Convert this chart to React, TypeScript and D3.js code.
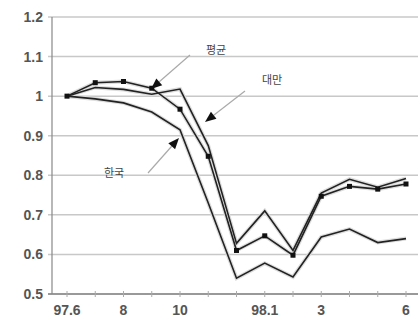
import React from "react";
import * as d3 from "d3";

const months = ["97.6", "7", "8", "9", "10", "11", "12", "98.1", "2", "3", "4", "5", "6"];
const tickLabels = ["97.6", "8", "10", "98.1", "3", "6"];
const yTicks = [0.5, 0.6, 0.7, 0.8, 0.9, 1, 1.1, 1.2];
const taiwan = [1.0, 1.022, 1.017, 1.005, 1.018, 0.875, 0.628, 0.71, 0.61, 0.755, 0.79, 0.77, 0.792];
const average = [1.0, 1.034, 1.037, 1.02, 0.967, 0.848, 0.61, 0.647, 0.598, 0.747, 0.772, 0.765, 0.778];
const korea = [1.0, 0.993, 0.983, 0.96, 0.915, 0.73, 0.54, 0.578, 0.543, 0.644, 0.664, 0.63, 0.64];

const W = 420;
const H = 320;

export default function App() {
  const x = d3.scaleLinear().domain([0, months.length - 1]).range([67, 406]);
  const y = d3.scaleLinear().domain([0.5, 1.2]).range([294, 17]);
  const line = d3
    .line<number>()
    .x((_, i) => x(i))
    .y((d) => y(d));

  const arrow = (x1: number, y1: number, x2: number, y2: number) => {
    const ang = Math.atan2(y2 - y1, x2 - x1);
    const len = 11;
    const w = 4.5;
    const bx = x2 - len * Math.cos(ang);
    const by = y2 - len * Math.sin(ang);
    const px = -Math.sin(ang) * w;
    const py = Math.cos(ang) * w;
    return (
      <g>
        <line x1={x1} y1={y1} x2={bx} y2={by} stroke="#aaa" strokeWidth={1.2} />
        <polygon points={`${x2},${y2} ${bx + px},${by + py} ${bx - px},${by - py}`} fill="#111" />
      </g>
    );
  };

  const font = "'Liberation Sans', Arial, sans-serif";
  const kfont = "'Noto Sans CJK KR', sans-serif";

  return (
    <svg
      width={W}
      height={H}
      style={{ position: "fixed", left: 0, top: 0, background: "#fff" }}
      fontFamily={font}
    >
      {yTicks.map((t) => (
        <g key={t}>
          <line x1={48} x2={418} y1={y(t)} y2={y(t)} stroke={t === 0.5 ? "#777" : "#c8c8c8"} strokeWidth={1.5} />
          <text x={43} y={y(t) + 5} textAnchor="end" fontSize={14} fontWeight="bold" fill="#555">
            {String(t)}
          </text>
        </g>
      ))}
      <line x1={52} x2={52} y1={y(1.2)} y2={y(0.5)} stroke="#888" strokeWidth={1.2} />
      {months.map((m, i) => (
        <line key={m} x1={x(i)} x2={x(i)} y1={y(0.5) - 3} y2={y(0.5) + 3} stroke="#aaa" strokeWidth={1} />
      ))}
      {months.map((m, i) =>
        tickLabels.includes(m) ? (
          <text key={m} x={x(i)} y={315} textAnchor="middle" fontSize={14} fontWeight="bold" fill="#555">
            {m}
          </text>
        ) : null
      )}
      {[taiwan, average, korea].map((s, k) => (
        <path key={k} d={line(s) || ""} fill="none" stroke="#ddd" strokeWidth={4} />
      ))}
      {[taiwan, average, korea].map((s, k) => (
        <path key={k} d={line(s) || ""} fill="none" stroke="#222" strokeWidth={1.6} />
      ))}
      {average.map((v, i) => (
        <rect key={i} x={x(i) - 2.5} y={y(v) - 2.5} width={5} height={5} fill="#111" />
      ))}
      {arrow(190, 55, 151, 89)}
      {arrow(245, 91, 205, 122)}
      {arrow(148, 173, 179, 138)}
      <text x={206} y={54} fontSize={11} fill="#444" fontFamily={kfont}>평균</text>
      <text x={262} y={84} fontSize={11} fill="#444" fontFamily={kfont}>대만</text>
      <text x={104} y={177} fontSize={11} fill="#444" fontFamily={kfont}>한국</text>
    </svg>
  );
}
